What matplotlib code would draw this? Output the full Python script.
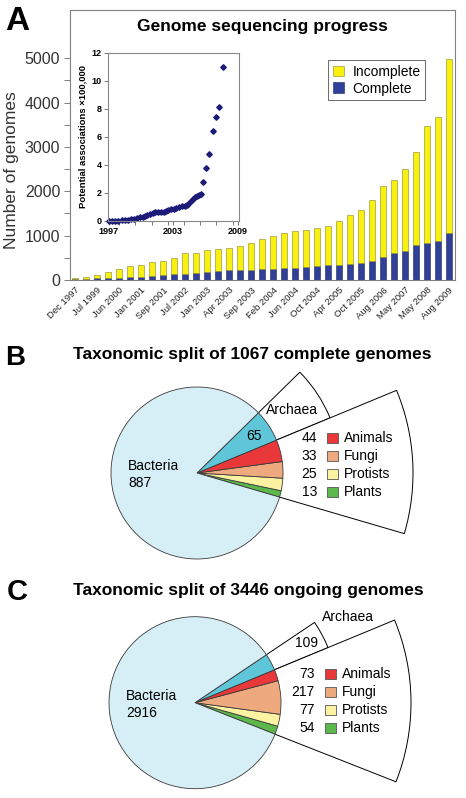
import matplotlib.pyplot as plt
from matplotlib.patches import Wedge, Rectangle
from matplotlib.ticker import MultipleLocator, FixedLocator
import numpy as np

plt.rcParams['font.family'] = ['Liberation Sans', 'DejaVu Sans']

# --- panel A: genomes per release (35 bars, every other one labelled)
bar_labels = ['Dec 1997', 'Jul 1999', 'Jun 2000', 'Jan 2001', 'Sep 2001', 'Jul 2002',
              'Jan 2003', 'Apr 2003', 'Sep 2003', 'Feb 2004', 'Jun 2004', 'Oct 2004',
              'Apr 2005', 'Oct 2005', 'Aug 2006', 'May 2007', 'May 2008', 'Aug 2009']
complete = [15, 25, 40, 45, 55, 60, 65, 100, 110, 125, 145, 150, 185, 210, 215, 225, 230, 245,
            255, 275, 280, 285, 305, 330, 340, 370, 390, 420, 520, 600, 660, 790, 840, 880, 1060]
incomplete = [25, 45, 80, 130, 195, 250, 275, 305, 320, 365, 455, 450, 490, 490, 515, 535, 605,
              675, 730, 775, 825, 850, 860, 880, 980, 1100, 1190, 1380, 1610, 1660, 1840, 2090,
              2640, 2790, 3920]

# inset: potential associations (x 100,000)
assoc_years = [1997.0, 1997.3, 1997.6, 1997.9, 1998.25, 1998.55, 1998.8, 1999.1, 1999.35, 1999.6,
               1999.9, 2000.15, 2000.35, 2000.6, 2000.85, 2001.15, 2001.35, 2001.6, 2001.85,
               2002.1, 2002.35, 2002.55, 2002.8, 2003.05, 2003.3, 2003.55, 2003.8, 2004.05,
               2004.25, 2004.4, 2004.65, 2004.85, 2005.05, 2005.2, 2005.4, 2005.55, 2005.78,
               2006.04, 2006.35, 2006.65, 2006.97, 2007.28, 2007.59]
assoc_values = [0, 0, 0, 0, 0.02, 0.02, 0.05, 0.1, 0.14, 0.17, 0.24, 0.29, 0.33, 0.38, 0.45, 0.52,
                0.6, 0.6, 0.64, 0.64, 0.69, 0.76, 0.83, 0.86, 0.93, 0.98, 1.02, 1.07, 1.12, 1.21,
                1.4, 1.55, 1.67, 1.76, 1.86, 1.93, 2.76, 3.74, 4.76, 6.42, 7.38, 8.1, 11.0]

# --- panels B and C: taxonomic split
taxa = ['Bacteria', 'Archaea', 'Animals', 'Fungi', 'Protists', 'Plants']
taxon_colors = ['#d6eef6', '#5fc6d9', '#e8383a', '#eeaa7e', '#fcf3a2', '#5cb84a']
complete_split = [887, 65, 44, 33, 25, 13]
ongoing_split = [2916, 109, 73, 217, 77, 54]

W, H = 466, 798
fig = plt.figure(figsize=(W / 100, H / 100), dpi=100)


def box(x0, y0, x1, y1):
    # pixel box (top-left origin) -> figure fraction rect
    return [x0 / W, 1 - y1 / H, (x1 - x0) / W, (y1 - y0) / H]


# ---------------- panel A ----------------
ax = fig.add_axes(box(70, 10, 455, 280))
x = np.arange(len(complete))
ax.bar(x, complete, width=0.62, color='#2f4096', edgecolor='#1c2560', linewidth=0.4,
       label='Complete', zorder=2)
ax.bar(x, incomplete, bottom=complete, width=0.62, color='#f8f00e', edgecolor='#8a8430',
       linewidth=0.4, label='Incomplete', zorder=2)
ax.set_xlim(-0.45, 34.55)
ax.set_ylim(0, 6090)
ax.yaxis.set_major_locator(FixedLocator([0, 1000, 2000, 3000, 4000, 5000]))
ax.yaxis.set_minor_locator(FixedLocator([500, 1500, 2500, 3500, 4500]))
ax.tick_params(axis='y', which='both', direction='out', length=4, width=0.7, color='#808080',
               labelsize=11.5, labelcolor='#333333', pad=3)
ax.set_xticks(x[::2])
ax.set_xticklabels(bar_labels, rotation=45, ha='right', rotation_mode='anchor', fontsize=6.8,
                   color='#222222')
ax.tick_params(axis='x', length=0, pad=4)
for s in ax.spines.values():
    s.set_color('#808080')
    s.set_linewidth(0.8)
ax.text(0.5, 0.94, 'Genome sequencing progress', transform=ax.transAxes, ha='center',
        va='center', fontsize=12.5, fontweight='bold')
handles, labels = ax.get_legend_handles_labels()
leg = ax.legend(handles[::-1], labels[::-1], loc='upper left', bbox_to_anchor=(0.67, 0.815),
                fontsize=10, frameon=True, fancybox=False, edgecolor='#444444',
                handlelength=0.8, handleheight=0.8, handletextpad=0.6, borderpad=0.35,
                labelspacing=0.2, borderaxespad=0)
leg.get_frame().set_linewidth(0.7)
fig.text(12 / W, 1 - 170 / H, 'Number of genomes', rotation=90, ha='center', va='center',
         fontsize=12.5, color='#333333')
fig.text(5 / W, 1 - 22 / H, 'A', ha='left', va='center', fontsize=24, fontweight='bold')

# inset
ins = fig.add_axes(box(108, 52.7, 239, 220.7))
ins.plot(assoc_years, assoc_values, linestyle='none', marker='D', markersize=2.8,
         color='#1c1c78', clip_on=False)
ins.set_xlim(1996.95, 2009.1)
ins.set_ylim(0, 12)
ins.set_xticks([1997, 2003, 2009])
ins.xaxis.set_minor_locator(MultipleLocator(1.5))
ins.yaxis.set_major_locator(MultipleLocator(2))
ins.tick_params(which='both', direction='out', length=3, width=0.7, color='#777777',
                labelsize=6.5, pad=1.5)
for lab in ins.get_xticklabels() + ins.get_yticklabels():
    lab.set_fontweight('bold')
for s in ins.spines.values():
    s.set_color('#888888')
    s.set_linewidth(0.8)
ins.set_ylabel('Potential associations \u00d7100,000', fontsize=6.8, fontweight='bold', labelpad=3)


# ---------------- panels B and C ----------------
def taxon_pie(rect, center, values, arch_num_r, arch_lab_r, arch_lab_ang):
    cx, cy = center
    x0, y0, x1, y1 = rect
    pax = fig.add_axes(box(*rect))
    r = 86
    total = sum(values)
    euk = sum(values[2:])
    split = 22.5
    start = split - 360 * euk / total
    arch_end = split + 360 * values[1] / total

    # white "exploded" sectors behind the pie
    pax.add_patch(Wedge((0, 0), 144, split, arch_end, fc='white', ec='black', lw=0.7, zorder=0))
    pax.add_patch(Wedge((0, 0), 216, start, split, fc='white', ec='black', lw=0.7, zorder=0))

    pax.pie(values[::-1], colors=taxon_colors[::-1], startangle=start, counterclock=True,
            radius=r, center=(0, 0),
            wedgeprops=dict(edgecolor='#3a3a3a', linewidth=0.6))
    pax.set_xlim(-(cx - x0), x1 - cx)
    pax.set_ylim(-(y1 - cy), cy - y0)
    pax.set_aspect('auto')
    pax.axis('off')

    # bacteria label
    pax.text(-69, -1.5, 'Bacteria\n%d' % values[0], ha='left', va='center', fontsize=10,
             linespacing=1.25)
    # archaea
    mid = np.radians((split + arch_end) / 2)
    pax.text(arch_num_r * np.cos(mid), arch_num_r * np.sin(mid), str(values[1]), ha='center',
             va='center', fontsize=10)
    a = np.radians(arch_lab_ang)
    pax.text(arch_lab_r * np.cos(a), arch_lab_r * np.sin(a), 'Archaea', ha='center',
             va='center', fontsize=10)
    # eukaryote legend in the big sector
    emid = np.radians((start + split) / 2)
    yc = 150 * np.sin(emid)
    for i, k in enumerate(range(2, 6)):
        yy = yc + 27 - 18 * i
        pax.text(120, yy, str(values[k]), ha='right', va='center', fontsize=10)
        pax.add_patch(Rectangle((130, yy - 5), 10.5, 10, fc=taxon_colors[k], ec='#555555',
                                lw=0.6))
        pax.text(147, yy, taxa[k], ha='left', va='center', fontsize=10)
    return pax


taxon_pie((0, 365, W, 562), (197, 473), complete_split, 68, 114,
          22.5 + 180 * complete_split[1] / sum(complete_split))
fig.text(252 / W, 1 - 355 / H, 'Taxonomic split of 1067 complete genomes', ha='center',
         va='center', fontsize=12.5, fontweight='bold')
fig.text(5 / W, 1 - 358 / H, 'B', ha='left', va='center', fontsize=20, fontweight='bold')

taxon_pie((0, 605, W, H), (195, 702.7), ongoing_split, 126, 175, 29.3)
fig.text(248 / W, 1 - 590 / H, 'Taxonomic split of 3446 ongoing genomes', ha='center',
         va='center', fontsize=12.5, fontweight='bold')
fig.text(7 / W, 1 - 592 / H, 'C', ha='left', va='center', fontsize=21, fontweight='bold')

fig.savefig('out.png', dpi=100)
